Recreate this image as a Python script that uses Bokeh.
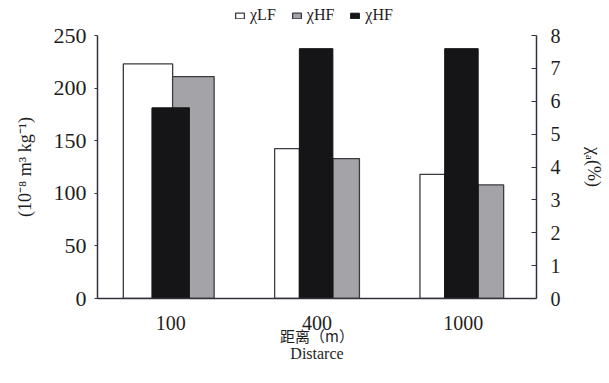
from bokeh.plotting import figure
from bokeh.models import (Range1d, LinearAxis, FixedTicker, ColumnDataSource,
                          Legend, LegendItem)
from bokeh.layouts import column
from bokeh.embed import file_html
from bokeh.resources import INLINE

# ---- data ----
distances = ["100", "400", "1000"]
chi_lf = [223, 142.5, 118]          # 10^-8 m3 kg-1
chi_hf = [211, 133, 108]            # 10^-8 m3 kg-1
chi_fd = [5.8, 7.6, 7.6]            # %
left_ticks = [0, 50, 100, 150, 200, 250]
right_ticks = [0, 1, 2, 3, 4, 5, 6, 7, 8]
legend_labels = ["χLF", "χHF", "χHF"]

# ---- layout (bar offsets / widths within each group, in category units) ----
lf_off = [-0.155, -0.205, -0.212]
lf_w = [0.337, 0.169, 0.169]
hf_off = [0.155, 0.199, 0.188]
hf_w = [0.284, 0.182, 0.175]
fd_off = [0.0, -0.006, -0.013]
fd_w = [0.256, 0.229, 0.229]

centers = [i + 0.5 for i in range(len(distances))]

AX = "#33333d"
TXT = "#1e1e1e"
SERIF = "Liberation Serif"
LF_STYLE = dict(fill_color="white", line_color="#3a3a40", line_width=1.3)
HF_STYLE = dict(fill_color="#a4a4a8", line_color="#3a3a40", line_width=1.3)
FD_STYLE = dict(fill_color="#151518", line_color="#151518", line_width=1)

W = 606
LG_H = 24
p = figure(width=W, height=383 - LG_H, output_backend="svg",
           toolbar_location=None,
           x_range=Range1d(0, 3), y_range=Range1d(0, 250),
           min_border_left=97, min_border_right=W - 542,
           min_border_top=35 - LG_H, min_border_bottom=85)
p.extra_y_ranges = {"fd": Range1d(0, 8)}
p.grid.visible = False
p.outline_line_color = None
p.background_fill_color = "white"

src = ColumnDataSource(dict(
    x_lf=[c + o for c, o in zip(centers, lf_off)], w_lf=lf_w, lf=chi_lf,
    x_hf=[c + o for c, o in zip(centers, hf_off)], w_hf=hf_w, hf=chi_hf,
    x_fd=[c + o for c, o in zip(centers, fd_off)], w_fd=fd_w, fd=chi_fd,
))

p.vbar(x="x_lf", width="w_lf", top="lf", bottom=0, source=src, **LF_STYLE)
p.vbar(x="x_hf", width="w_hf", top="hf", bottom=0, source=src, **HF_STYLE)
p.vbar(x="x_fd", width="w_fd", top="fd", bottom=0, source=src,
       y_range_name="fd", **FD_STYLE)

# left axis
ya = p.yaxis[0]
ya.ticker = FixedTicker(ticks=left_ticks)
ya.axis_label = "(10⁻⁸ m³ kg⁻¹)"
ya.axis_label_text_font = SERIF
ya.axis_label_text_font_style = "normal"
ya.axis_label_text_font_size = "18px"
ya.axis_label_text_color = TXT
ya.axis_label_standoff = 16
ya.major_label_text_font = SERIF
ya.major_label_text_font_size = "22px"
ya.major_label_text_color = TXT
ya.major_label_standoff = 8
ya.major_tick_in = 0
ya.major_tick_out = 3
ya.minor_tick_in = 0
ya.minor_tick_out = 0
ya.axis_line_color = AX
ya.axis_line_width = 1.5
ya.major_tick_line_color = AX

# right axis
ra = LinearAxis(y_range_name="fd", ticker=FixedTicker(ticks=right_ticks))
ra.axis_label = "χₐ(%)"
ra.axis_label_text_font = SERIF
ra.axis_label_text_font_style = "normal"
ra.axis_label_text_font_size = "18px"
ra.axis_label_text_color = TXT
ra.axis_label_standoff = 20
ra.major_label_text_font = SERIF
ra.major_label_text_font_size = "20px"
ra.major_label_text_color = TXT
ra.major_label_standoff = 14
ra.major_tick_in = 5
ra.major_tick_out = 0
ra.minor_tick_in = 0
ra.minor_tick_out = 0
ra.axis_line_color = AX
ra.axis_line_width = 1.5
ra.major_tick_line_color = AX
p.add_layout(ra, "right")

# x axis
xa = p.xaxis[0]
xa.ticker = FixedTicker(ticks=centers)
xa.major_label_overrides = {c: d for c, d in zip(centers, distances)}
xa.major_label_text_font = SERIF
xa.major_label_text_font_size = "20px"
xa.major_label_text_color = TXT
xa.major_label_standoff = 17
xa.major_tick_in = 0
xa.major_tick_out = 0
xa.minor_tick_in = 0
xa.minor_tick_out = 0
xa.axis_line_color = AX
xa.axis_line_width = 1.5
xa.axis_label = "距离（m）"
xa.axis_label_text_font = "Noto Sans CJK SC"
xa.axis_label_text_font_style = "normal"
xa.axis_label_text_font_size = "15px"
xa.axis_label_text_color = TXT
xa.axis_label_standoff = -8

# second line of the x title
xb = LinearAxis(ticker=FixedTicker(ticks=[]), axis_line_color=None,
                major_tick_out=0, minor_tick_out=0,
                axis_label="Distarce", axis_label_standoff=-4,
                axis_label_text_font=SERIF, axis_label_text_font_size="16px",
                axis_label_text_font_style="normal",
                axis_label_text_color=TXT)
p.add_layout(xb, "below")

# legend strip above the chart
lg = figure(width=W, height=LG_H, output_backend="svg", toolbar_location=None,
            x_range=Range1d(0, 1), y_range=Range1d(0, 1), min_border=0)
lg.axis.visible = False
lg.grid.visible = False
lg.outline_line_color = None
rl = [lg.vbar(x=xf, top=tf, width=0.1, source=src, visible=False, **st)
      for xf, tf, st in (("x_lf", "lf", LF_STYLE), ("x_hf", "hf", HF_STYLE),
                         ("x_fd", "fd", FD_STYLE))]
legend = Legend(items=[LegendItem(label=t, renderers=[r], index=0)
                       for t, r in zip(legend_labels, rl)],
                orientation="horizontal", location=(137, 0),
                label_text_font=SERIF, label_text_font_size="16px",
                label_text_color=TXT, glyph_width=11, glyph_height=7,
                label_standoff=5, spacing=15, padding=0, margin=0,
                label_height=14, inactive_fill_alpha=0,
                border_line_color=None, background_fill_alpha=0)
lg.add_layout(legend, "center")

open("out.html", "w").write(file_html(column(lg, p, spacing=0), INLINE))
